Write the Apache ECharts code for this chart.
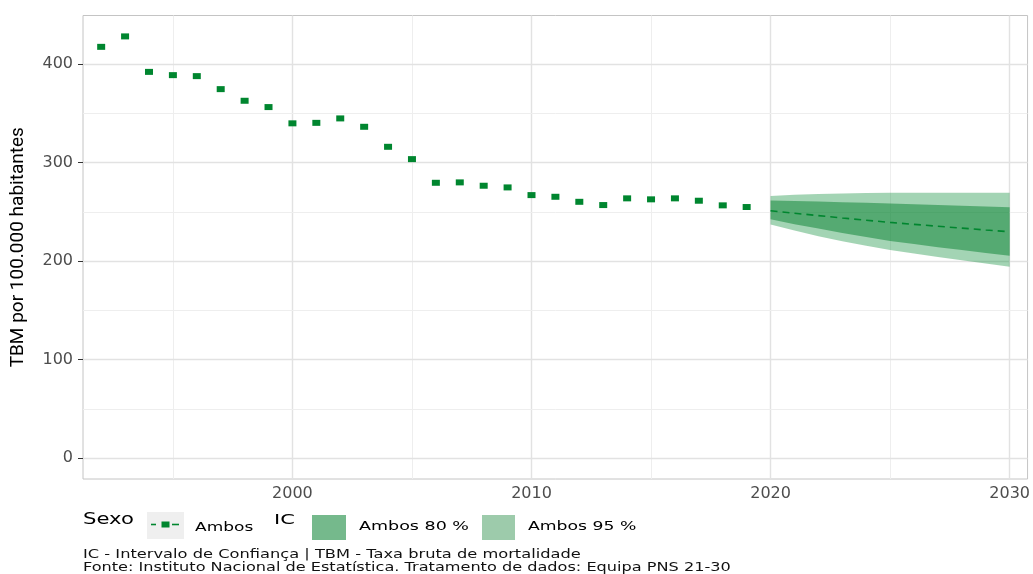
<!DOCTYPE html>
<html>
<head>
<meta charset="utf-8">
<script src="https://cdn.jsdelivr.net/npm/echarts@6/dist/echarts.min.js"></script>
<style>
html,body{margin:0;padding:0;background:#fff;}
#chart{width:1033px;height:574px;}
</style>
</head>
<body>
<div id="chart"></div>
<script>
// ---- data ----
const histYears = [1992,1993,1994,1995,1996,1997,1998,1999,2000,2001,2002,2003,2004,2005,2006,2007,2008,2009,2010,2011,2012,2013,2014,2015,2016,2017,2018,2019];
const tbm = [417.4,428.0,392.0,388.7,387.7,374.5,362.7,356.3,339.8,340.3,344.8,336.3,316.0,303.5,279.5,279.9,276.5,274.8,267.0,265.3,260.2,256.9,263.7,262.7,263.7,261.3,256.6,254.9];
const fcYears = [2020,2021,2022,2023,2024,2025,2026,2027,2028,2029,2030];
const fcMean = [251.1,248.6,246.2,243.8,241.5,239.3,237.3,235.4,233.5,231.6,229.8];
const hi80 = [261.5,261.0,260.4,259.8,259.2,258.6,257.8,257.0,256.2,255.4,254.6];
const lo80 = [242.4,237.5,233.0,228.6,224.4,220.5,217.3,214.2,211.2,208.3,205.5];
const hi95 = [266.2,267.3,268.1,268.7,269.1,269.3,269.4,269.4,269.4,269.4,269.3];
const lo95 = [237.3,231.0,225.3,220.2,215.6,211.4,207.7,204.2,200.9,197.6,194.4];
const xTicks = [2000,2010,2020,2030];
const xMinor = [1995,2005,2015,2025];
const yTicks = [0,100,200,300,400];
const yMinor = [50,150,250,350];
const yTitle = 'TBM por 100.000 habitantes';
const legendSexoTitle = 'Sexo';
const legendSexoLabel = 'Ambos';
const legendICTitle = 'IC';
const legendIC80 = 'Ambos 80 %';
const legendIC95 = 'Ambos 95 %';
const caption1 = 'IC - Intervalo de Confiança | TBM - Taxa bruta de mortalidade';
const caption2 = 'Fonte: Instituto Nacional de Estatística. Tratamento de dados: Equipa PNS 21-30';

// ---- chart ----
const FONT = 'DejaVu Sans';
const green = '#00862f';
const majorLS = {color:'#e2e2e2', width:1.4, type:'solid'};
const minorLS = {color:'#eeeeee', width:1, type:'solid'};

const gridLines = []
  .concat(xTicks.map(v => ({xAxis:v, lineStyle:majorLS})))
  .concat(xMinor.map(v => ({xAxis:v, lineStyle:minorLS})))
  .concat(yTicks.map(v => ({yAxis:v, lineStyle:majorLS})))
  .concat(yMinor.map(v => ({yAxis:v, lineStyle:minorLS})));

function ribbon(name, lo, hi, color) {
  return {
    type:'custom', name:name, silent:true, z:2,
    data: fcYears.map((y, i) => [y, lo[i], hi[i]]),
    encode:{x:0, y:[1,2]},
    renderItem: function (params, api) {
      if (params.dataIndex !== 0) return null;
      const pts = [];
      for (let i = 0; i < fcYears.length; i++) pts.push(api.coord([fcYears[i], hi[i]]));
      for (let i = fcYears.length - 1; i >= 0; i--) pts.push(api.coord([fcYears[i], lo[i]]));
      return {type:'polygon', shape:{points:pts}, style:{fill:color}};
    }
  };
}

function label(text, x, y, size, sx, fill) {
  return {type:'text', x:x, y:y, scaleX:sx, silent:true,
    style:{text:text, x:0, y:0, align:'left', verticalAlign:'middle', font:size + 'px "DejaVu Sans"', fill:fill || '#000'}};
}

const chart = echarts.init(document.getElementById('chart'), null, {renderer:'canvas'});
const option = {
  animation:false,
  backgroundColor:'#ffffff',
  grid:{left:83, right:4, top:15.5, bottom:95, show:true, borderColor:'#c4c4c4', borderWidth:1, backgroundColor:'transparent'},
  xAxis:{
    type:'value', min:1991.24, max:2030.75,
    axisLine:{show:false},
    splitLine:{show:false},
    axisTick:{show:true, customValues:xTicks, length:5, lineStyle:{color:'#333', width:1}},
    axisLabel:{customValues:xTicks, margin:7, color:'#4d4d4d', fontFamily:FONT, fontSize:16, formatter: v => String(v)}
  },
  yAxis:{
    type:'value', min:-21.0, max:449.2,
    axisLine:{show:false},
    splitLine:{show:false},
    axisTick:{show:true, customValues:yTicks, length:5, lineStyle:{color:'#333', width:1}},
    axisLabel:{customValues:yTicks, margin:10, color:'#4d4d4d', fontFamily:FONT, fontSize:16, formatter: v => String(v)},
    name:yTitle, nameLocation:'middle', nameRotate:90, nameGap:55,
    nameTextStyle:{fontFamily:'Roboto', fontSize:19, color:'#000'}
  },
  series:[
    {type:'line', name:'grid', data:[], silent:true,
     markLine:{z:1, silent:true, symbol:['none','none'], label:{show:false}, emphasis:{disabled:true}, data:gridLines}},
    ribbon('Ambos 95 %', lo95, hi95, 'rgba(0,135,48,0.36)'),
    ribbon('Ambos 80 %', lo80, hi80, 'rgba(0,125,42,0.48)'),
    {type:'line', name:'Ambos', data:fcYears.map((y,i)=>[y, fcMean[i]]), symbol:'none', silent:true,
     lineStyle:{color:green, width:1.6, type:[7,5]}, z:3},
    {type:'scatter', name:'Ambos pts', data:histYears.map((y,i)=>[y, tbm[i]]), symbol:'rect', symbolSize:[8,6],
     itemStyle:{color:green, opacity:1}, z:4}
  ],
  graphic:[
    label(legendSexoTitle, 83, 520.5, 15, 1.41),
    {type:'rect', shape:{x:147, y:512, width:37, height:27}, style:{fill:'#efefef'}},
    {type:'line', shape:{x1:151, y1:524.5, x2:156, y2:524.5}, style:{stroke:green, lineWidth:1.6}},
    {type:'line', shape:{x1:172, y1:524.5, x2:179, y2:524.5}, style:{stroke:green, lineWidth:1.6}},
    {type:'rect', shape:{x:161.5, y:521.5, width:8, height:6}, style:{fill:green}},
    label(legendSexoLabel, 195, 527.8, 12.5, 1.36),
    label(legendICTitle, 274, 520, 14, 1.5),
    {type:'rect', shape:{x:312, y:515, width:34, height:25}, style:{fill:'#75b98c'}},
    label(legendIC80, 359, 527.2, 12.5, 1.4),
    {type:'rect', shape:{x:482, y:515, width:33, height:25}, style:{fill:'#9dcbab'}},
    label(legendIC95, 528, 527.2, 12.5, 1.38),
    label(caption1, 83, 554.7, 12.5, 1.3, '#111'),
    label(caption2, 83, 567.5, 12.5, 1.29, '#111')
  ]
};
chart.setOption(option);
</script>
</body>
</html>
